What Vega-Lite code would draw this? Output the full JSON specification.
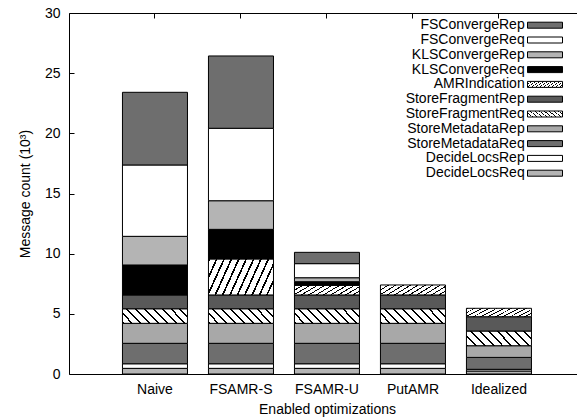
{
 "$schema": "https://vega.github.io/schema/vega-lite/v6.json",
 "width": 508, "height": 361,
 "autosize": {"type": "none"},
 "padding": {"left": 69, "top": 13, "right": 0, "bottom": 43},
 "background": "white",
 "config": {
   "font": "Liberation Sans",
   "view": {"stroke": "black", "strokeWidth": 1},
   "axis": {"labelFont": "Liberation Sans", "labelFontSize": 14, "labelColor": "black", "titleFont": "Liberation Sans", "titleFontSize": 14, "titleFontWeight": "normal", "titleColor": "black", "tickColor": "black", "tickSize": -5, "tickWidth": 1, "domain": false, "grid": false}
 },
 "data": {"values": [
  {"opt": "Naive", "series": "DecideLocsReq", "count": 0.47},
  {"opt": "Naive", "series": "DecideLocsRep", "count": 0.38},
  {"opt": "Naive", "series": "StoreMetadataReq", "count": 1.70},
  {"opt": "Naive", "series": "StoreMetadataRep", "count": 1.66},
  {"opt": "Naive", "series": "StoreFragmentReq", "count": 1.21},
  {"opt": "Naive", "series": "StoreFragmentRep", "count": 1.15},
  {"opt": "Naive", "series": "KLSConvergeReq", "count": 2.49},
  {"opt": "Naive", "series": "KLSConvergeRep", "count": 2.38},
  {"opt": "Naive", "series": "FSConvergeReq", "count": 5.93},
  {"opt": "Naive", "series": "FSConvergeRep", "count": 6.04},
  {"opt": "FSAMR-S", "series": "DecideLocsReq", "count": 0.47},
  {"opt": "FSAMR-S", "series": "DecideLocsRep", "count": 0.38},
  {"opt": "FSAMR-S", "series": "StoreMetadataReq", "count": 1.70},
  {"opt": "FSAMR-S", "series": "StoreMetadataRep", "count": 1.66},
  {"opt": "FSAMR-S", "series": "StoreFragmentReq", "count": 1.21},
  {"opt": "FSAMR-S", "series": "StoreFragmentRep", "count": 1.15},
  {"opt": "FSAMR-S", "series": "AMRIndication", "count": 2.99},
  {"opt": "FSAMR-S", "series": "KLSConvergeReq", "count": 2.46},
  {"opt": "FSAMR-S", "series": "KLSConvergeRep", "count": 2.38},
  {"opt": "FSAMR-S", "series": "FSConvergeReq", "count": 6.02},
  {"opt": "FSAMR-S", "series": "FSConvergeRep", "count": 6.01},
  {"opt": "FSAMR-U", "series": "DecideLocsReq", "count": 0.47},
  {"opt": "FSAMR-U", "series": "DecideLocsRep", "count": 0.38},
  {"opt": "FSAMR-U", "series": "StoreMetadataReq", "count": 1.70},
  {"opt": "FSAMR-U", "series": "StoreMetadataRep", "count": 1.66},
  {"opt": "FSAMR-U", "series": "StoreFragmentReq", "count": 1.21},
  {"opt": "FSAMR-U", "series": "StoreFragmentRep", "count": 1.15},
  {"opt": "FSAMR-U", "series": "AMRIndication", "count": 0.80},
  {"opt": "FSAMR-U", "series": "KLSConvergeReq", "count": 0.30},
  {"opt": "FSAMR-U", "series": "KLSConvergeRep", "count": 0.33},
  {"opt": "FSAMR-U", "series": "FSConvergeReq", "count": 1.17},
  {"opt": "FSAMR-U", "series": "FSConvergeRep", "count": 0.94},
  {"opt": "PutAMR", "series": "DecideLocsReq", "count": 0.47},
  {"opt": "PutAMR", "series": "DecideLocsRep", "count": 0.38},
  {"opt": "PutAMR", "series": "StoreMetadataReq", "count": 1.70},
  {"opt": "PutAMR", "series": "StoreMetadataRep", "count": 1.66},
  {"opt": "PutAMR", "series": "StoreFragmentReq", "count": 1.21},
  {"opt": "PutAMR", "series": "StoreFragmentRep", "count": 1.15},
  {"opt": "PutAMR", "series": "AMRIndication", "count": 0.83},
  {"opt": "Idealized", "series": "DecideLocsReq", "count": 0.25},
  {"opt": "Idealized", "series": "DecideLocsRep", "count": 0.14},
  {"opt": "Idealized", "series": "StoreMetadataReq", "count": 0.99},
  {"opt": "Idealized", "series": "StoreMetadataRep", "count": 0.97},
  {"opt": "Idealized", "series": "StoreFragmentReq", "count": 1.22},
  {"opt": "Idealized", "series": "StoreFragmentRep", "count": 1.19},
  {"opt": "Idealized", "series": "AMRIndication", "count": 0.70}
 ]},
 "transform": [{"calculate": "indexof(['FSConvergeRep','FSConvergeReq','KLSConvergeRep','KLSConvergeReq','AMRIndication','StoreFragmentRep','StoreFragmentReq','StoreMetadataRep','StoreMetadataReq','DecideLocsRep','DecideLocsReq'], datum.series)", "as": "rank"}],
 "layer": [
  {"mark": {"type": "bar", "stroke": "black", "strokeWidth": 1},
   "encoding": {
     "x": {"field": "opt", "type": "nominal", "sort": ["Naive","FSAMR-S","FSAMR-U","PutAMR","Idealized"],
           "scale": {"paddingInner": 0.244, "paddingOuter": 0.5756, "align": 0.54},
           "axis": {"labelAngle": 0, "labelPadding": 13, "title": "Enabled optimizations", "titlePadding": 6, "titleX": 258}},
     "y": {"field": "count", "type": "quantitative", "stack": "zero",
           "scale": {"domain": [0, 30], "nice": false},
           "axis": {"values": [0, 5, 10, 15, 20, 25, 30], "labelPadding": 14, "title": "Message count (10³)", "titlePadding": 12}},
     "color": {"field": "series", "type": "nominal",
       "scale": {"domain": ["FSConvergeRep","FSConvergeReq","KLSConvergeRep","KLSConvergeReq","AMRIndication","StoreFragmentRep","StoreFragmentReq","StoreMetadataRep","StoreMetadataReq","DecideLocsRep","DecideLocsReq"],
         "range": ["#6e6e6e", "#ffffff", "#b4b4b4", "#000000",
           {"expr": "{gradient:'linear',x1:0,y1:0,x2:1.176,y2:0.294,stops:[{offset:0,color:'#000'},{offset:0.022,color:'#000'},{offset:0.022,color:'#fff'},{offset:0.0909,color:'#fff'},{offset:0.0909,color:'#000'},{offset:0.1129,color:'#000'},{offset:0.1129,color:'#fff'},{offset:0.1818,color:'#fff'},{offset:0.1818,color:'#000'},{offset:0.2038,color:'#000'},{offset:0.2038,color:'#fff'},{offset:0.2727,color:'#fff'},{offset:0.2727,color:'#000'},{offset:0.2947,color:'#000'},{offset:0.2947,color:'#fff'},{offset:0.3636,color:'#fff'},{offset:0.3636,color:'#000'},{offset:0.3856,color:'#000'},{offset:0.3856,color:'#fff'},{offset:0.4545,color:'#fff'},{offset:0.4545,color:'#000'},{offset:0.4765,color:'#000'},{offset:0.4765,color:'#fff'},{offset:0.5455,color:'#fff'},{offset:0.5455,color:'#000'},{offset:0.5675,color:'#000'},{offset:0.5675,color:'#fff'},{offset:0.6364,color:'#fff'},{offset:0.6364,color:'#000'},{offset:0.6584,color:'#000'},{offset:0.6584,color:'#fff'},{offset:0.7273,color:'#fff'},{offset:0.7273,color:'#000'},{offset:0.7493,color:'#000'},{offset:0.7493,color:'#fff'},{offset:0.8182,color:'#fff'},{offset:0.8182,color:'#000'},{offset:0.8402,color:'#000'},{offset:0.8402,color:'#fff'},{offset:0.9091,color:'#fff'},{offset:0.9091,color:'#000'},{offset:0.9311,color:'#000'},{offset:0.9311,color:'#fff'},{offset:1,color:'#fff'}]}"},
           "#595959",
           {"expr": "{gradient:'linear',x1:0,y1:1,x2:1.164,y2:0.744,stops:[{offset:0,color:'#000'},{offset:0.025,color:'#000'},{offset:0.025,color:'#fff'},{offset:0.1111,color:'#fff'},{offset:0.1111,color:'#000'},{offset:0.1361,color:'#000'},{offset:0.1361,color:'#fff'},{offset:0.2222,color:'#fff'},{offset:0.2222,color:'#000'},{offset:0.2472,color:'#000'},{offset:0.2472,color:'#fff'},{offset:0.3333,color:'#fff'},{offset:0.3333,color:'#000'},{offset:0.3583,color:'#000'},{offset:0.3583,color:'#fff'},{offset:0.4444,color:'#fff'},{offset:0.4444,color:'#000'},{offset:0.4694,color:'#000'},{offset:0.4694,color:'#fff'},{offset:0.5556,color:'#fff'},{offset:0.5556,color:'#000'},{offset:0.5806,color:'#000'},{offset:0.5806,color:'#fff'},{offset:0.6667,color:'#fff'},{offset:0.6667,color:'#000'},{offset:0.6917,color:'#000'},{offset:0.6917,color:'#fff'},{offset:0.7778,color:'#fff'},{offset:0.7778,color:'#000'},{offset:0.8028,color:'#000'},{offset:0.8028,color:'#fff'},{offset:0.8889,color:'#fff'},{offset:0.8889,color:'#000'},{offset:0.9139,color:'#000'},{offset:0.9139,color:'#fff'},{offset:1,color:'#fff'}]}"},
           "#a8a8a8", "#6e6e6e", "#ffffff", "#b4b4b4"]},
       "legend": {"title": null, "orient": "none", "legendX": 469, "legendY": 5.2, "padding": 0,
         "labelFont": "Liberation Sans", "labelFontSize": 14, "labelColor": "black", "labelAlign": "right", "labelOffset": -27.3, "labelLimit": 300,
         "symbolType": "M-3.5,-0.6H3.5V0.6H-3.5Z", "symbolSize": 100, "symbolStrokeColor": "black", "symbolStrokeWidth": 1, "symbolOpacity": 1, "rowPadding": 0.8}},
     "order": {"field": "rank", "type": "quantitative", "sort": "descending"}
   }},
  {"mark": {"type": "point", "opacity": 0},
   "encoding": {"x": {"field": "opt", "type": "nominal", "sort": ["Naive","FSAMR-S","FSAMR-U","PutAMR","Idealized"],
     "axis": {"orient": "top", "labels": false, "title": null}}}}
 ],
 "resolve": {"axis": {"x": "independent"}}
}
